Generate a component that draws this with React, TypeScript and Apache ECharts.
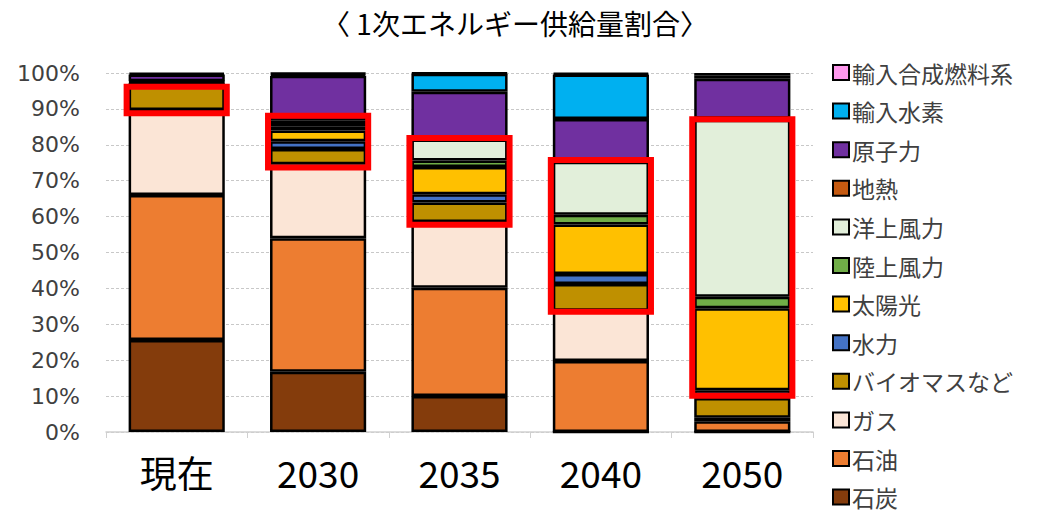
import React, { useEffect, useRef } from "react";
import * as echarts from "echarts";

const categories = ["現在", "2030", "2035", "2040", "2050"];

const coal = [25.6, 16.8, 10.0, 0, 0];
const oil = [40.4, 37.2, 30.2, 19.8, 3.0];
const gas = [23.7, 20.6, 18.3, 14.0, 1.0];
const biomass = [7.6, 4.2, 5.4, 7.4, 5.5];
const hydro = [0.2, 2.2, 2.3, 2.8, 2.1];
const solar = [0.2, 3.0, 7.6, 13.8, 22.9];
const onshoreWind = [null, 1.0, 1.8, 2.7, 3.2];
const offshoreWind = [null, 0.8, 5.9, 14.8, 49.3];
const geothermal = [null, 0.9, 0.3, 0.3, 0.3];
const nuclear = [1.9, 12.5, 13.0, 11.6, 11.1];
const importHydrogen = [0.4, 0.5, 5.0, 12.4, 0.8];
const importSynFuel = [null, 0.3, 0.2, 0.4, 0.8];

const seriesNames = [
  "石炭",
  "石油",
  "ガス",
  "バイオマスなど",
  "水力",
  "太陽光",
  "陸上風力",
  "洋上風力",
  "地熱",
  "原子力",
  "輸入水素",
  "輸入合成燃料系",
];
const seriesValues = [
  coal,
  oil,
  gas,
  biomass,
  hydro,
  solar,
  onshoreWind,
  offshoreWind,
  geothermal,
  nuclear,
  importHydrogen,
  importSynFuel,
];
const seriesColors = [
  "#843C0C",
  "#ED7D31",
  "#FBE5D6",
  "#BF9000",
  "#4472C4",
  "#FFC000",
  "#70AD47",
  "#E2EFDA",
  "#C55A11",
  "#7030A0",
  "#00B0F0",
  "#FF99EE",
];

// highlighted ranges (red frames), in percent
const boxLow = [88.8, 73.7, 57.7, 33.5, 10.1];
const boxHigh = [96.2, 88.1, 81.9, 75.8, 87.1];

const titleText = "〈 1次エネルギー供給量割合〉";

export default function App() {
  const ref = useRef<HTMLDivElement>(null);

  useEffect(() => {
    if (!ref.current) return;
    const chart = echarts.init(ref.current, undefined, { renderer: "svg" });

    const barSeries = seriesNames.map((name, i) => ({
      name,
      type: "bar",
      stack: "total",
      barWidth: "68%",
      data: seriesValues[i],
      itemStyle: {
        color: seriesColors[i],
        borderColor: "#000000",
        borderWidth: 2.5,
      },
      emphasis: { disabled: true },
    }));

    const option = {
      animation: false,
      title: {
        text: titleText,
        left: 510,
        top: 4,
        textAlign: "center",
        textStyle: {
          fontFamily: "'Noto Sans CJK JP', sans-serif",
          fontSize: 28,
          fontWeight: "normal",
          color: "#000000",
        },
      },
      legend: {
        orient: "vertical",
        left: 832,
        top: 61,
        height: 450,
        padding: 0,
        data: seriesNames.slice().reverse(),
        itemWidth: 16,
        itemHeight: 15,
        itemGap: 15.6,
        icon: "rect",
        textStyle: {
          fontFamily: "'Noto Sans CJK JP', sans-serif",
          fontSize: 23,
          color: "#404040",
          padding: [0, 0, 0, -2],
        },
      },
      grid: {
        left: 106,
        right: 233,
        top: 73,
        bottom: 81,
        containLabel: false,
      },
      xAxis: {
        type: "category",
        data: categories,
        axisLine: { lineStyle: { color: "#D0D0D0", width: 1.5 } },
        axisTick: { show: true, length: 6, lineStyle: { color: "#D0D0D0" } },
        axisLabel: {
          margin: 21,
          fontSize: 37,
          color: "#000000",
          fontFamily: "'Noto Sans CJK JP', sans-serif",
        },
      },
      yAxis: {
        type: "value",
        min: 0,
        max: 100,
        interval: 10,
        axisLine: { show: false },
        axisTick: { show: false },
        axisLabel: {
          formatter: "{value}%",
          fontSize: 22,
          margin: 26,
          color: "#404040",
          fontFamily: "'DejaVu Sans', sans-serif",
        },
        splitLine: {
          lineStyle: { color: "#C8C8C8", type: [3, 2], width: 1 },
        },
      },
      series: [
        ...barSeries,
        {
          type: "custom",
          name: "highlight",
          data: categories.map((_, i) => [i, boxLow[i], boxHigh[i]]),
          encode: { x: 0, y: [1, 2] },
          z: 10,
          silent: true,
          renderItem: (params: any, api: any) => {
            const idx = api.value(0);
            const lo = api.coord([idx, api.value(1)]);
            const hi = api.coord([idx, api.value(2)]);
            const band = api.size([1, 0])[0];
            const w = band * 0.68 + 4;
            return {
              type: "rect",
              shape: { x: lo[0] - w / 2, y: hi[1], width: w, height: lo[1] - hi[1] },
              style: { fill: "none", stroke: "#FF0000", lineWidth: 6 },
            };
          },
        },
      ],
    };

    chart.setOption(option as any);
    return () => chart.dispose();
  }, []);

  return (
    <div
      ref={ref}
      style={{ position: "fixed", left: 0, top: 0, width: 1046, height: 513, background: "#ffffff" }}
    />
  );
}
